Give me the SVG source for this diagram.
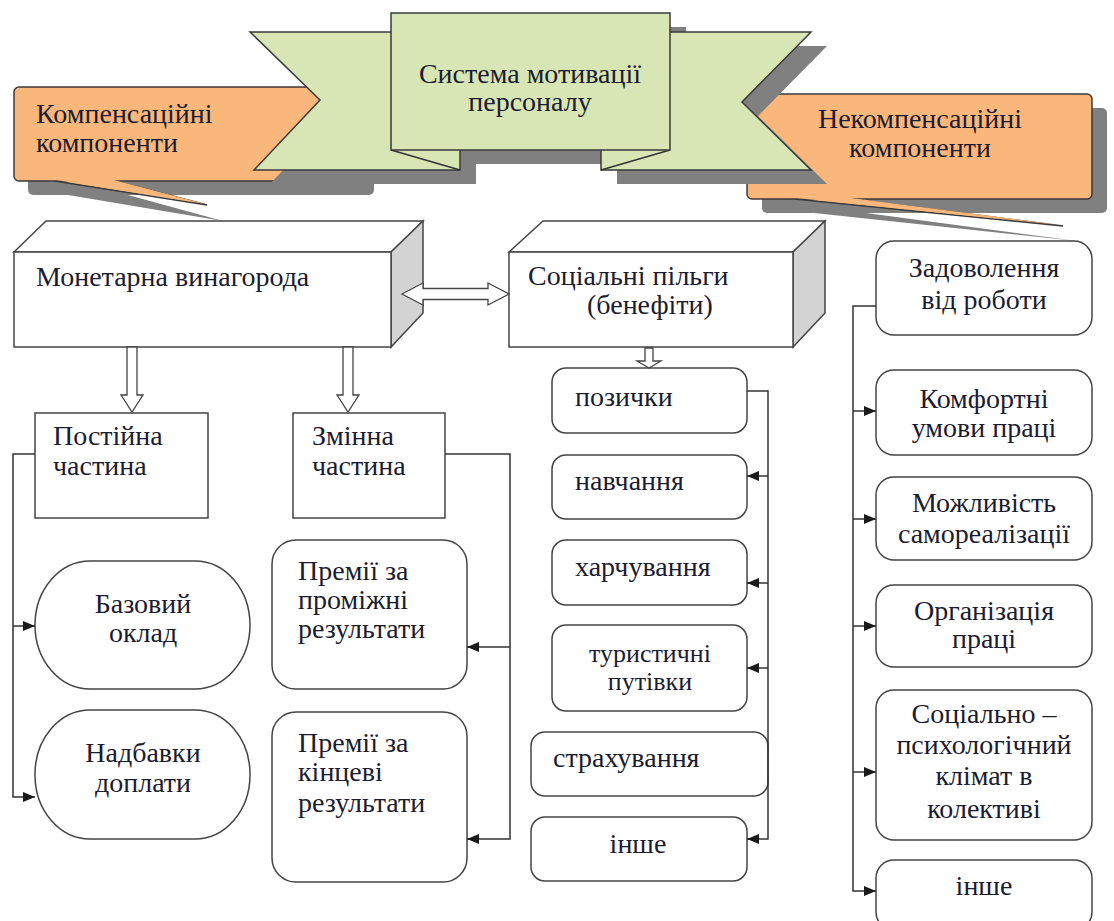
<svg xmlns="http://www.w3.org/2000/svg" width="1114" height="921" viewBox="0 0 1114 921">
<defs>
<marker id="ah" viewBox="0 0 12 10" refX="12" refY="5" markerWidth="12" markerHeight="10" markerUnits="userSpaceOnUse" orient="auto">
<path d="M0,0 L12,5 L0,10 Z" fill="#1a1a1a"/>
</marker>
<style>
text{font-family:"Liberation Serif","Times New Roman",serif;font-size:28px;fill:#1c1c30}
.c{text-anchor:middle}
.t26{font-size:26px}
.sh{fill:#808080}
.or{fill:#fab77b;stroke:#3a3a3a;stroke-width:1.5}
.gr{fill:#d7e6b4;stroke:#3a3a3a;stroke-width:1.5}
.bx{fill:#fff;stroke:#444;stroke-width:1.5}
.side{fill:#d3d3d3;stroke:#444;stroke-width:1.5}
.ln{fill:none;stroke:#333;stroke-width:1.5}
.ha{fill:#fff;stroke:#444;stroke-width:1.3}
</style>
</defs>
<rect width="1114" height="921" fill="#fff"/>

<g id="comp">
<rect class="sh" x="28" y="101" width="346" height="94" rx="5"/>
<polygon class="sh" points="68,195 128,195 223,221"/>
<polygon class="or" points="55,181 115,181 207,205"/>
<rect class="or" x="14" y="87" width="346" height="94" rx="5"/>
<polygon points="56,180 114,180 205,204" fill="#fab77b"/>
<text x="36" y="123">Компенсаційні</text>
<text x="36" y="152">компоненти</text>
</g>

<g id="noncomp">
<rect class="sh" x="762" y="108" width="345" height="105" rx="5"/>
<polygon class="sh" points="814,213 866,213 1077,241"/>
<polygon class="or" points="795,199 852,199 1063,226"/>
<rect class="or" x="747" y="94" width="345" height="105" rx="5"/>
<polygon points="796,198 851,198 1060,225" fill="#fab77b"/>
<text class="c" x="920" y="128">Некомпенсаційні</text>
<text class="c" x="920" y="157">компоненти</text>
</g>

<g id="system">
<g transform="translate(16,14)" class="sh">
<polygon points="250,32 460,32 460,170 254,170 320,100"/>
<polygon points="601,32 811,32 742,102 811,170 601,170"/>
<rect x="391" y="13" width="279" height="137"/>
</g>
<polygon class="gr" points="250,32 460,32 460,170 254,170 320,100"/>
<polygon class="gr" points="601,32 811,32 742,102 811,170 601,170"/>
<line class="ln" x1="391" y1="150" x2="460" y2="170"/>
<line class="ln" x1="670" y1="150" x2="601" y2="170"/>
<rect class="gr" x="391" y="13" width="279" height="137"/>
<text class="c" x="530" y="83">Система мотивації</text>
<text class="c" x="530" y="111">персоналу</text>
</g>

<g id="monetary">
<polygon class="bx" points="14,252 46,221 423,221 391,252"/>
<polygon class="side" points="391,252 423,221 423,313 391,347"/>
<rect class="bx" x="14" y="252" width="377" height="95"/>
<text x="36" y="286">Монетарна винагорода</text>
</g>

<g id="social">
<polygon class="bx" points="509,252 543,221 825,221 793,252"/>
<polygon class="side" points="793,252 825,221 825,313 793,347"/>
<rect class="bx" x="509" y="252" width="284" height="95"/>
<text x="528" y="285">Соціальні пільги</text>
<text x="587" y="314">(бенефіти)</text>
</g>

<g id="fixed">
<rect class="bx" x="35" y="413" width="173" height="105"/>
<text x="53" y="445">Постійна</text>
<text x="53" y="475">частина</text>
</g>
<g id="variable">
<rect class="bx" x="293" y="413" width="152" height="105"/>
<text x="312" y="445">Змінна</text>
<text x="312" y="475">частина</text>
</g>
<g id="base">
<rect class="bx" x="35" y="561" width="215" height="128" rx="55" ry="64"/>
<text class="c" x="143" y="613">Базовий</text>
<text class="c" x="143" y="642">оклад</text>
</g>
<g id="extra">
<rect class="bx" x="35" y="710" width="215" height="129" rx="55" ry="64"/>
<text class="c" x="143" y="762">Надбавки</text>
<text class="c" x="143" y="792">доплати</text>
</g>
<g id="bonus1">
<rect class="bx" x="272" y="540" width="195" height="149" rx="24"/>
<text x="298" y="580">Премії за</text>
<text x="298" y="609">проміжні</text>
<text x="298" y="638">результати</text>
</g>
<g id="bonus2">
<rect class="bx" x="272" y="712" width="195" height="170" rx="24"/>
<text x="298" y="752">Премії за</text>
<text x="298" y="781">кінцеві</text>
<text x="298" y="812">результати</text>
</g>

<g id="loans"><rect class="bx" x="552" y="368" width="195" height="65" rx="14"/><text x="575" y="406">позички</text></g>
<g id="training"><rect class="bx" x="552" y="455" width="195" height="64" rx="14"/><text x="575" y="490">навчання</text></g>
<g id="food"><rect class="bx" x="552" y="540" width="195" height="65" rx="14"/><text x="575" y="576">харчування</text></g>
<g id="tours"><rect class="bx" x="552" y="625" width="195" height="86" rx="14"/><text class="c t26" x="650" y="662">туристичні</text><text class="c t26" x="650" y="690">путівки</text></g>
<g id="insurance"><rect class="bx" x="531" y="732" width="237" height="64" rx="14"/><text x="553" y="767">страхування</text></g>
<g id="other1"><rect class="bx" x="531" y="817" width="216" height="64" rx="14"/><text class="c" x="638" y="853">інше</text></g>

<g id="satisfaction"><rect class="bx" x="876" y="241" width="216" height="94" rx="18"/><text class="c" x="984" y="277">Задоволення</text><text class="c" x="984" y="309">від роботи</text></g>
<g id="comfort"><rect class="bx" x="876" y="370" width="216" height="85" rx="18"/><text class="c" x="984" y="408">Комфортні</text><text class="c" x="984" y="437">умови праці</text></g>
<g id="selfreal"><rect class="bx" x="876" y="477" width="216" height="83" rx="18"/><text class="c" x="984" y="512">Можливість</text><text class="c" x="984" y="543">самореалізації</text></g>
<g id="organization"><rect class="bx" x="876" y="585" width="216" height="82" rx="18"/><text class="c" x="984" y="620">Організація</text><text class="c" x="984" y="648">праці</text></g>
<g id="climate"><rect class="bx" x="876" y="690" width="216" height="150" rx="18"/><text class="c" x="984" y="723">Соціально –</text><text class="c" x="984" y="754">психологічний</text><text class="c" x="984" y="785">клімат в</text><text class="c" x="984" y="818">колективі</text></g>
<g id="other2"><rect class="bx" x="876" y="860" width="216" height="70" rx="18"/><text class="c" x="984" y="895">інше</text></g>

<g id="connectors">
<polygon class="ha" points="402,294 423,283 423,288.5 488,288.5 488,283 509,294 488,305 488,299.5 423,299.5 423,305"/>
<polygon class="ha" points="127,347 137,347 137,395 143,395 132,412 121,395 127,395"/>
<polygon class="ha" points="343,347 353,347 353,395 359,395 348,412 337,395 343,395"/>
<polygon class="ha" points="645,348 653,348 653,361 661,361 649,368 637,361 645,361"/>

<polyline class="ln" points="35,454 13,454 13,797 35,797" marker-end="url(#ah)"/>
<line class="ln" x1="13" y1="626" x2="35" y2="626" marker-end="url(#ah)"/>
<polyline class="ln" points="445,454 510,454 510,839 467,839" marker-end="url(#ah)"/>
<line class="ln" x1="510" y1="647" x2="467" y2="647" marker-end="url(#ah)"/>

<polyline class="ln" points="747,391 768,391 768,839 747,839" marker-end="url(#ah)"/>
<line class="ln" x1="768" y1="476" x2="747" y2="476" marker-end="url(#ah)"/>
<line class="ln" x1="768" y1="583" x2="747" y2="583" marker-end="url(#ah)"/>
<line class="ln" x1="768" y1="668" x2="747" y2="668" marker-end="url(#ah)"/>

<polyline class="ln" points="876,306 853,306 853,891 876,891" marker-end="url(#ah)"/>
<line class="ln" x1="853" y1="411" x2="876" y2="411" marker-end="url(#ah)"/>
<line class="ln" x1="853" y1="519" x2="876" y2="519" marker-end="url(#ah)"/>
<line class="ln" x1="853" y1="626" x2="876" y2="626" marker-end="url(#ah)"/>
<line class="ln" x1="853" y1="772" x2="876" y2="772" marker-end="url(#ah)"/>
</g>
</svg>
